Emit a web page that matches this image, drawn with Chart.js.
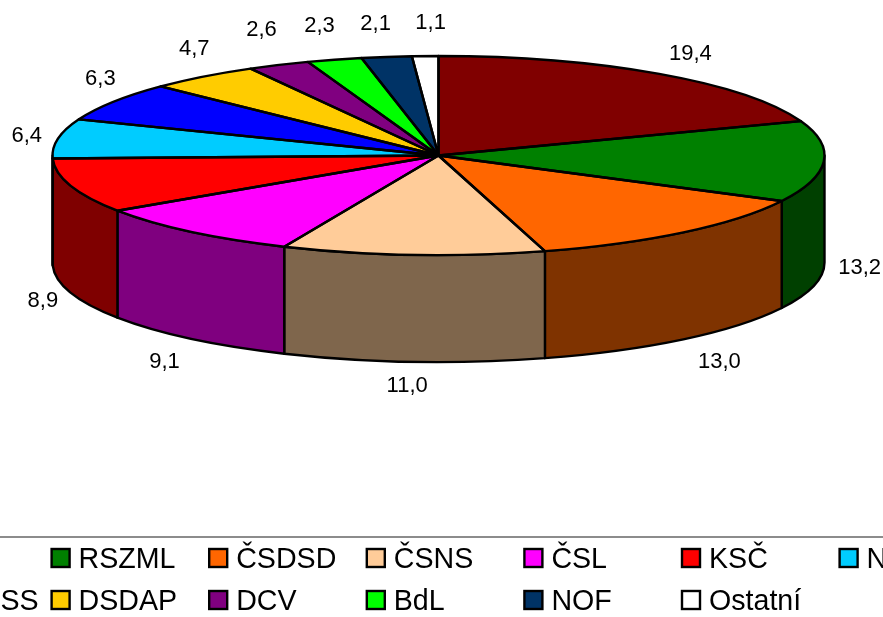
<!DOCTYPE html>
<html>
<head>
<meta charset="utf-8">
<title>Pie</title>
<script src="https://cdn.jsdelivr.net/npm/chart.js@4"></script>
<style>
    html, body { margin: 0; padding: 0; background: #fff; overflow: hidden; }
    canvas { display: block; }
</style>
</head>
<body>
<canvas id="pie" width="883" height="617"></canvas>
<script>
// Data
const parties = ['SdP', 'RSZML', 'ČSDSD', 'ČSNS', 'ČSL', 'KSČ', 'NSJ', 'ČSŽOSS', 'DSDAP', 'DCV', 'BdL', 'NOF', 'Ostatní'];
const shares = [19.4, 13.2, 13.0, 11.0, 9.1, 8.9, 6.4, 6.3, 4.7, 2.6, 2.3, 2.1, 1.1];
const sliceColors = ['#800000', '#008000', '#FF6600', '#FFCC99', '#FF00FF', '#FF0000', '#00CCFF', '#0000FF', '#FFCC00', '#800080', '#00FF00', '#003366', '#FFFFFF'];

// Tilted pie look
const rimX = 386, rimY = 99.5, wallDepth = 107;
const outlineWidth = 2.4;
const labelFont = '22px "Liberation Sans", Arial, sans-serif';
const legendFont = '28.6px "Liberation Sans", Arial, sans-serif';
// Small hand corrections of the value labels, in px
const labelNudge = [[6, 5], [-8, -3], [8, -1], [-3, -6], [2, 0], [14, -1], [12, 3], [24, -6], [18, -4], [1, -7], [-3, -4], [-5, -3], [7, -3]];

// Wall colour is the slice colour at half brightness
function halfShade(hex) {
    const n = parseInt(hex.slice(1), 16);
    return `rgb(${(n >> 16) >> 1}, ${((n >> 8) & 255) >> 1}, ${(n & 255) >> 1})`;
}

const tiltedPie = {
    id: 'tiltedPie',
    beforeDatasetsDraw(chart) {
        const ctx = chart.ctx;
        const arcs = chart.getDatasetMeta(0).data;
        ctx.save();
        ctx.lineWidth = outlineWidth;
        ctx.lineJoin = 'round';
        ctx.strokeStyle = '#000';
        // Only the front half of the rim shows a wall
        arcs.forEach((arc, i) => {
            const from = Math.max(arc.startAngle, 0);
            const to = Math.min(arc.endAngle, Math.PI);
            if (from >= to) return;
            ctx.beginPath();
            ctx.ellipse(arc.x, arc.y, rimX, rimY, 0, from, to);
            ctx.ellipse(arc.x, arc.y + wallDepth, rimX, rimY, 0, to, from, true);
            ctx.closePath();
            ctx.fillStyle = halfShade(sliceColors[i]);
            ctx.fill();
            ctx.stroke();
        });
        ctx.restore();

        // Squash the round pie the library draws into the top ellipse
        const first = arcs[0];
        ctx.save();
        ctx.translate(first.x, first.y);
        ctx.scale(rimX / first.outerRadius, rimY / first.outerRadius);
        ctx.translate(-first.x, -first.y);
    },
    afterDatasetsDraw(chart) {
        const ctx = chart.ctx;
        ctx.restore();
        const arcs = chart.getDatasetMeta(0).data;

        // Slice outlines, stroked untransformed so the line width stays even
        ctx.save();
        ctx.lineWidth = outlineWidth;
        ctx.lineJoin = 'round';
        ctx.strokeStyle = '#000';
        arcs.forEach(arc => {
            ctx.beginPath();
            ctx.moveTo(arc.x, arc.y);
            ctx.ellipse(arc.x, arc.y, rimX, rimY, 0, arc.startAngle, arc.endAngle);
            ctx.closePath();
            ctx.stroke();
        });
        ctx.restore();

        // Value labels
        ctx.save();
        ctx.font = labelFont;
        ctx.fillStyle = '#000';
        ctx.textAlign = 'center';
        ctx.textBaseline = 'middle';
        arcs.forEach((arc, i) => {
            const mid = (arc.startAngle + arc.endAngle) / 2;
            const x = arc.x + 430 * Math.cos(mid) + labelNudge[i][0];
            const y = arc.y + 130 * Math.sin(mid) + (Math.sin(mid) > 0 ? wallDepth : 0) + labelNudge[i][1];
            ctx.fillText(shares[i].toFixed(1).replace('.', ','), x, y);
        });
        ctx.restore();

        drawLegend(ctx);
    }
};

// The legend box is wider than the picture, so it runs off both sides
function drawLegend(ctx) {
    const perRow = 7, colStart = -106, colStep = 157.6, rowStart = 549, rowStep = 42;
    ctx.save();
    ctx.strokeStyle = '#666';
    ctx.lineWidth = 1.5;
    ctx.beginPath();
    ctx.moveTo(0, 537);
    ctx.lineTo(883, 537);
    ctx.stroke();

    ctx.font = legendFont;
    ctx.textAlign = 'left';
    ctx.textBaseline = 'middle';
    parties.forEach((name, i) => {
        const x = colStart + (i % perRow) * colStep;
        const y = rowStart + Math.floor(i / perRow) * rowStep;
        ctx.fillStyle = sliceColors[i];
        ctx.fillRect(x, y, 18, 18);
        ctx.strokeStyle = '#000';
        ctx.lineWidth = 2.4;
        ctx.strokeRect(x, y, 18, 18);
        ctx.fillStyle = '#000';
        ctx.fillText(name, x + 27, y + 11);
    });
    ctx.restore();
}

new Chart(document.getElementById('pie'), {
    type: 'pie',
    data: {
        labels: parties,
        datasets: [{
            data: shares,
            backgroundColor: sliceColors,
            borderWidth: 0,
            clip: false
        }]
    },
    options: {
        responsive: false,
        animation: false,
        layout: { padding: { right: 6, bottom: 306 } },
        plugins: {
            legend: { display: false },
            tooltip: { enabled: false }
        }
    },
    plugins: [tiltedPie]
});
</script>
</body>
</html>
